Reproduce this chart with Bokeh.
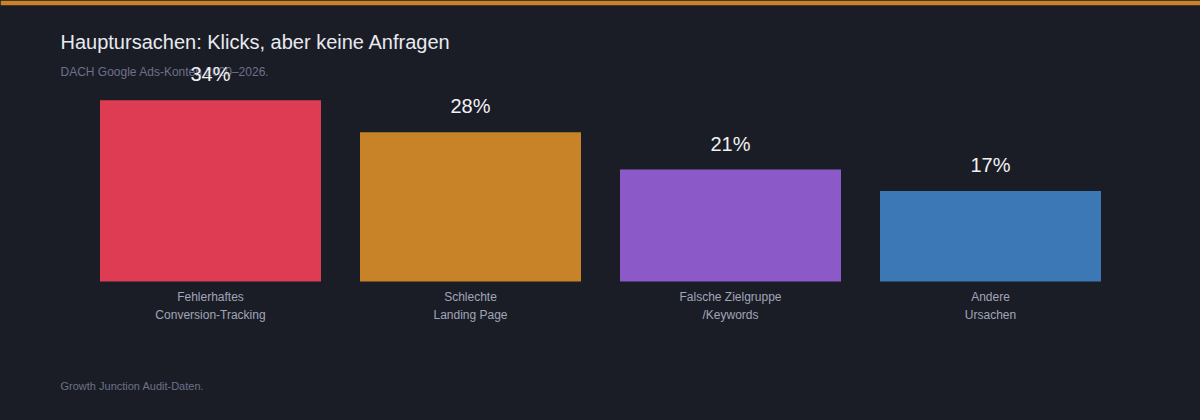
from bokeh.plotting import figure
from bokeh.models import FactorRange, Range1d, Label, ColumnDataSource
from bokeh.core.properties import value
from bokeh.embed import file_html
from bokeh.resources import INLINE

# ---- data ----
categories = ["tracking", "landing", "zielgruppe", "andere"]
category_labels = ["Fehlerhaftes\nConversion-Tracking", "Schlechte\nLanding Page",
                   "Falsche Zielgruppe\n/Keywords", "Andere\nUrsachen"]
shares = [34, 28, 21, 17]
share_labels = ["34%", "28%", "21%", "17%"]
bar_colors = ["#dd3c52", "#c88228", "#8c5ac8", "#3c78b6"]

title_text = "Hauptursachen: Klicks, aber keine Anfragen"
subtitle_text = "DACH Google Ads-Konten 2020\u20132026."
footer_text = "Growth Junction Audit-Daten."

# ---- layout constants ----
W, H = 1200, 420
TOP_STRIP = 5
BASE_Y = 281          # pixel row of value 0
PX_PER_UNIT = 5.328   # pixels per percentage point
FONT = "Liberation Sans"
BG = "#1b1d26"

y_end = (BASE_Y - TOP_STRIP) / PX_PER_UNIT
y_start = -(H - BASE_Y) / PX_PER_UNIT

p = figure(width=W, height=H, output_backend="svg", toolbar_location=None,
           x_range=FactorRange(factors=categories, range_padding=2 / 13),
           y_range=Range1d(y_start, y_end),
           x_axis_location=None, y_axis_location=None, title=None,
           min_border_left=0, min_border_right=0, min_border_bottom=0,
           min_border_top=TOP_STRIP)
p.background_fill_color = BG
p.border_fill_color = "#c98228"
p.outline_line_color = None
p.xgrid.grid_line_color = None
p.ygrid.grid_line_color = None

src = ColumnDataSource(dict(cat=categories, share=shares, color=bar_colors,
                            slabel=share_labels, clabel=category_labels))

p.vbar(x="cat", top="share", width=0.85, bottom=0, color="color", source=src, line_color=None)

p.text(x="cat", y="share", text="slabel", source=src, y_offset=-26,
       text_align="center", text_baseline="alphabetic",
       text_font=value(FONT), text_font_size="20px", text_color="#f0f1f5")

p.text(x="cat", y=0, text="clabel", source=src, y_offset=8,
       text_align="center", text_baseline="top", text_line_height=1.3,
       text_font=value(FONT), text_font_size="12px", text_color="#a0a5b8")

p.add_layout(Label(x=60, y=H - 41, x_units="screen", y_units="screen", text=title_text,
                   text_font=FONT, text_font_size="20px", text_color="#e8eaf0",
                   text_baseline="alphabetic"))
p.add_layout(Label(x=60, y=H - 71, x_units="screen", y_units="screen", text=subtitle_text,
                   text_font=FONT, text_font_size="12px", text_color="#6b7189",
                   text_baseline="alphabetic", level="underlay"))
p.add_layout(Label(x=60, y=H - 385, x_units="screen", y_units="screen", text=footer_text,
                   text_font=FONT, text_font_size="11px", text_color="#6b7189",
                   text_baseline="alphabetic"))

html = file_html(p, INLINE)
html = html.replace("<head>", "<head><style>html,body{margin:0;padding:0;background:%s;overflow:hidden}</style>" % BG, 1)
open("out.html", "w").write(html)
